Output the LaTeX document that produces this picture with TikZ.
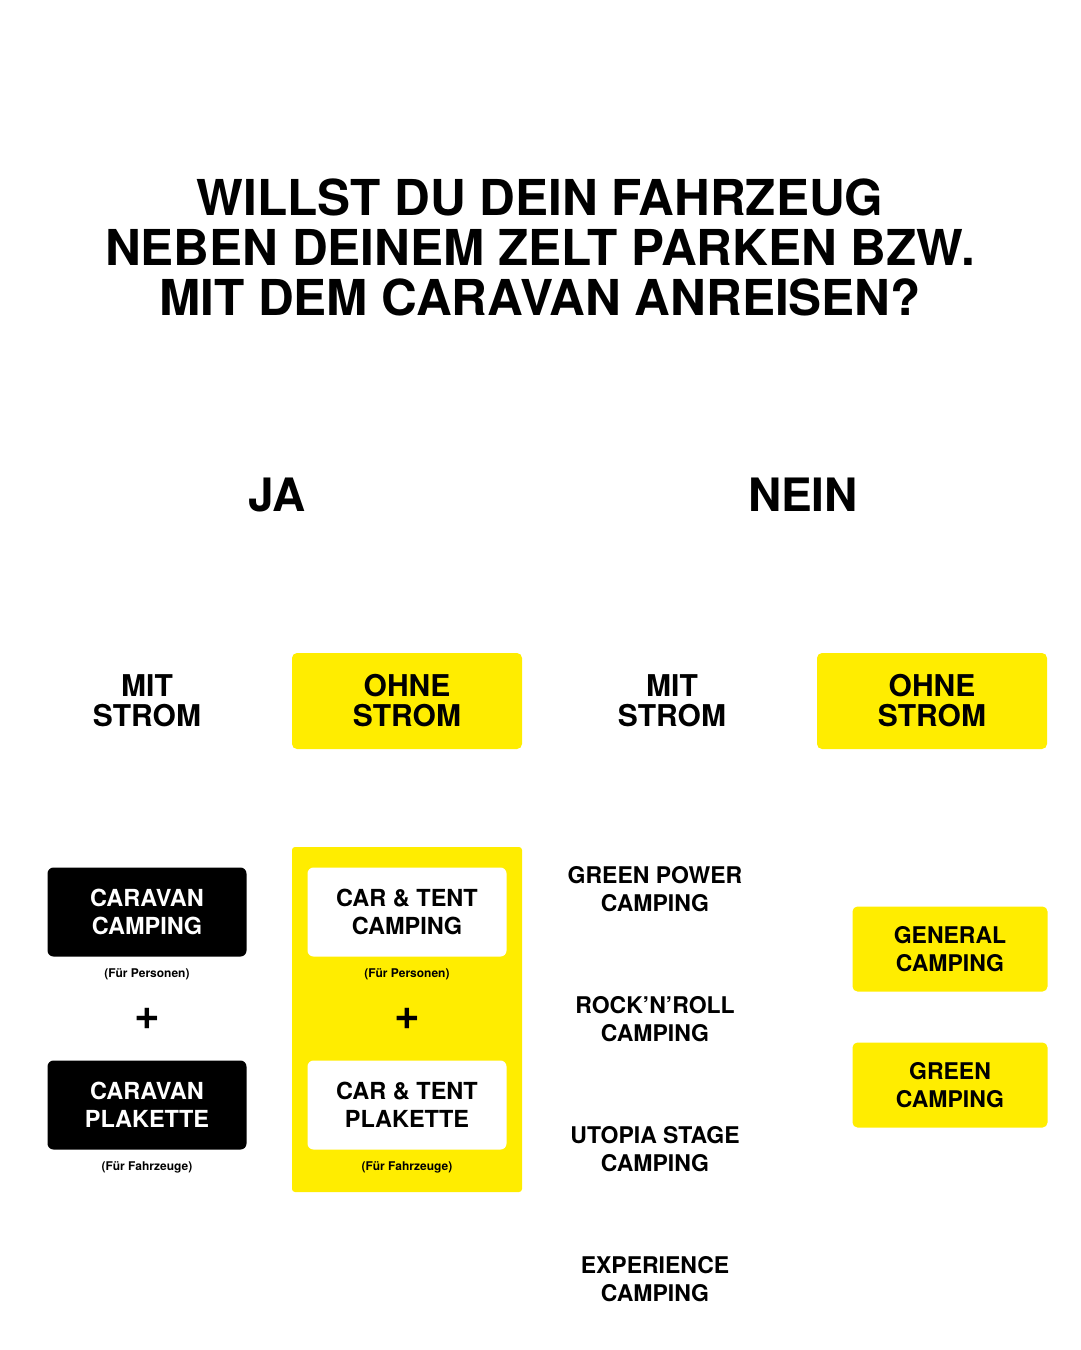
\documentclass[tikz,border=0pt]{standalone}
\usepackage{fontspec}
\setmainfont{TeX Gyre Heros}
\definecolor{festyellow}{HTML}{FFED00}
\tikzset{
  head/.style={font=\bfseries\fontsize{46}{50}\selectfont, align=center},
  title/.style={font=\bfseries\fontsize{49.5}{50}\selectfont, align=center},
  choice/.style={font=\bfseries\fontsize{30}{30}\selectfont, align=center},
  yellowbox/.style={fill=festyellow, rounded corners=5pt, minimum width=230pt, minimum height=96pt},
  ticket/.style={font=\bfseries\fontsize{23.5}{28}\selectfont, align=center, rounded corners=6pt, minimum width=199pt, minimum height=89pt},
  blackticket/.style={ticket, fill=black, text=white},
  whiteticket/.style={ticket, fill=white},
  note/.style={font=\bfseries\fontsize{12}{14}\selectfont},
  plus/.style={font=\bfseries\fontsize{44}{44}\selectfont},
  area/.style={font=\bfseries\fontsize{23}{28}\selectfont, align=center},
}
\begin{document}
\begin{tikzpicture}[x=1pt,y=-1pt]
  \useasboundingbox (0,0) rectangle (1080,1350);
  % question
  \node[title] (question) at (540,247) {WILLST DU DEIN FAHRZEUG\\NEBEN DEINEM ZELT PARKEN BZW.\\MIT DEM CARAVAN ANREISEN?};
  \node[head] (ja) at (277,495) {JA};
  \node[head] (nein) at (803,495) {NEIN};
  % strom
  \node[choice] (jaMit) at (147,701) {MIT\\STROM};
  \node[yellowbox, choice] (jaOhne) at (407,701) {OHNE\\STROM};
  \node[choice] (neinMit) at (672,701) {MIT\\STROM};
  \node[yellowbox, choice] (neinOhne) at (932,701) {OHNE\\STROM};
  % ja, mit strom
  \node[blackticket] (caravanCamp) at (147,912) {CARAVAN\\CAMPING};
  \node[note] (caravanPers) at (147,974) {(Für Personen)};
  \node[plus] (caravanPlus) at (147,1019) {+};
  \node[blackticket] (caravanPlak) at (147,1105) {CARAVAN\\PLAKETTE};
  \node[note] (caravanFahr) at (147,1167) {(Für Fahrzeuge)};
  % ja, ohne strom
  \fill[festyellow, rounded corners=3pt] (292,847) rectangle (522,1192);
  \node[whiteticket] (tentCamp) at (407,912) {CAR \& TENT\\CAMPING};
  \node[note] (tentPers) at (407,974) {(Für Personen)};
  \node[plus] (tentPlus) at (407,1019) {+};
  \node[whiteticket] (tentPlak) at (407,1105) {CAR \& TENT\\PLAKETTE};
  \node[note] (tentFahr) at (407,1167) {(Für Fahrzeuge)};
  % nein, mit strom
  \node[area] (greenPower) at (655,889) {GREEN POWER\\CAMPING};
  \node[area] (rocknroll) at (655,1019) {ROCK’N’ROLL\\CAMPING};
  \node[area] (utopia) at (655,1149) {UTOPIA STAGE\\CAMPING};
  \node[area] (experience) at (655,1279) {EXPERIENCE\\CAMPING};
  % nein, ohne strom
  \node[area, fill=festyellow, rounded corners=5pt, minimum width=195pt, minimum height=85pt] (general) at (950,949) {GENERAL\\CAMPING};
  \node[area, fill=festyellow, rounded corners=5pt, minimum width=195pt, minimum height=85pt] (green) at (950,1085) {GREEN\\CAMPING};
\end{tikzpicture}
\end{document}
